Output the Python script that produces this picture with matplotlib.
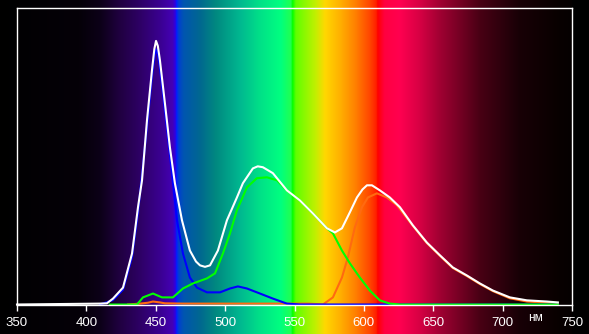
import matplotlib.pyplot as plt
import numpy as np
from matplotlib.colors import to_rgb

plt.rcParams["font.family"] = ["Liberation Sans", "DejaVu Sans"]

# total spectrum (white), nm -> relative intensity
white_nm = [350, 409.8, 414.8, 419.2, 426.4, 432.9, 437.2, 440.1, 443.7, 447.3, 449.0, 450.2,
            451.5, 453.0, 456.6, 460.2, 463.8, 468.9, 474.6, 479.0, 481.9, 485.5, 489.1, 494.8,
            501.3, 508.5, 512.8, 520.0, 523.5, 527.2, 534.4, 544.5, 553.9, 563.3, 573.4, 579.1,
            584.2, 589.9, 595.0, 599.0, 602.2, 605.8, 611.5, 618.7, 626.0, 635.3, 645.4, 654.8,
            664.1, 674.2, 683.6, 693.0, 705.2, 717.5, 731.9, 739.8]
white_val = [0.0, 0.003, 0.004, 0.02, 0.057, 0.172, 0.328, 0.419, 0.622, 0.791, 0.862, 0.889,
             0.872, 0.824, 0.679, 0.530, 0.409, 0.284, 0.182, 0.145, 0.132, 0.127, 0.132, 0.182,
             0.284, 0.361, 0.409, 0.459, 0.466, 0.463, 0.443, 0.385, 0.351, 0.307, 0.257, 0.243,
             0.257, 0.311, 0.361, 0.388, 0.402, 0.402, 0.385, 0.361, 0.328, 0.267, 0.209, 0.166,
             0.125, 0.098, 0.071, 0.047, 0.024, 0.014, 0.010, 0.007]

blue_nm = [409.8, 419.2, 426.4, 432.9, 437.2, 443.7, 447.3, 449.0, 450.2, 451.5, 453.0, 456.6,
           460.2, 465.3, 469.6, 474.6, 479.7, 486.9, 496.3, 503.5, 509.2, 515.7, 525.1, 534.4,
           544.5, 554.0, 739.8]
blue_val = [0.0, 0.015, 0.05, 0.16, 0.31, 0.60, 0.77, 0.835, 0.860, 0.845, 0.80, 0.655,
            0.505, 0.284, 0.172, 0.091, 0.057, 0.041, 0.041, 0.054, 0.061, 0.054, 0.037, 0.020,
            0.003, 0.0, 0.0]

green_nm = [417.0, 436.5, 440.8, 448.0, 454.5, 462.4, 469.6, 476.8, 486.9, 492.7, 498.4, 503.5,
            508.5, 515.7, 522.9, 530.1, 537.3, 544.5, 553.9, 563.3, 573.4, 577.7, 584.2, 589.9,
            597.1, 604.3, 611.5, 618.7, 626.0, 739.8]
green_val = [0.0, 0.0, 0.024, 0.037, 0.024, 0.024, 0.054, 0.071, 0.088, 0.105, 0.172, 0.24,
             0.318, 0.395, 0.426, 0.429, 0.419, 0.385, 0.351, 0.307, 0.257, 0.240, 0.182, 0.139,
             0.091, 0.047, 0.014, 0.003, 0.0, 0.0]

orange_nm = [430.0, 438.6, 444.4, 448.0, 453.0, 456.6, 470.0, 560.0, 570.5, 577.7, 584.2, 588.5,
             593.5, 598.6, 602.9, 609.4, 616.6, 623.8, 635.3, 645.4, 654.8, 664.1, 674.2, 683.6,
             693.0, 705.2, 717.5, 731.9, 739.8]
orange_val = [0.0, 0.003, 0.006, 0.010, 0.007, 0.004, 0.003, 0.003, 0.0, 0.024, 0.091, 0.159,
              0.260, 0.328, 0.361, 0.375, 0.361, 0.335, 0.265, 0.207, 0.164, 0.123, 0.096, 0.069,
              0.045, 0.021, 0.010, 0.006, 0.004]

# background rainbow, colour stops by wavelength
spectrum_nm = [337, 395, 410, 424, 439, 453, 462, 464, 465, 466.5, 470, 482, 493, 511, 525, 540,
               547.5, 548.5, 551, 565, 572, 583, 594, 604, 609, 610, 615, 626, 640, 655, 684, 712,
               741, 750, 750.5, 763]
spectrum_hex = ["#000000", "#050008", "#0c0018", "#200040", "#2e0066", "#3a0090", "#4400b4",
                "#3000e0", "#0020ff", "#0040d0", "#0055b0", "#006890", "#008880", "#00b890",
                "#00e088", "#00ff80", "#20ff50", "#00ff00", "#60ff00", "#c0f000", "#ffd800",
                "#ffb000", "#ff8000", "#ff4800", "#ff2000", "#ff0000", "#ff0040", "#ff0050",
                "#d80044", "#a00032", "#480014", "#180006", "#080000", "#050000", "#000000",
                "#000000"]

tick_values = [350, 400, 450, 500, 550, 600, 650, 700, 750]

fig = plt.figure(figsize=(5.89, 3.34), dpi=100, facecolor="black")

# full-figure background strip; pixel 17 -> 350 nm, pixel 572 -> 750 nm
x_lo, x_hi = 350 - 17 * 0.7207, 350 + 572 * 0.7207
grid = np.linspace(x_lo, x_hi, 1500)
rgb = np.array([to_rgb(c) for c in spectrum_hex])
img = np.stack([np.interp(grid, spectrum_nm, rgb[:, i]) for i in range(3)], axis=-1)[None, :, :]
bg = fig.add_axes([0, 0, 1, 1])
bg.imshow(img, aspect="auto", extent=[x_lo, x_hi, 0, 1], interpolation="bilinear")
bg.set_xlim(x_lo, x_hi)
bg.set_axis_off()

ax = fig.add_axes([17 / 589, (334 - 304.5) / 334, 555 / 589, 296.5 / 334])
ax.patch.set_alpha(0)
ax.set_xlim(350, 750)
ax.set_ylim(0, 1)

ax.plot(orange_nm, orange_val, color="#ff6a10", lw=1.5, clip_on=False)
ax.plot(blue_nm, blue_val, color="#0000ff", lw=1.5, clip_on=False)
ax.plot(green_nm, green_val, color="#00ff00", lw=1.5, clip_on=False)
ax.plot(white_nm, white_val, color="white", lw=1.5, clip_on=False)

for s in ax.spines.values():
    s.set_color("white")
    s.set_linewidth(1.0)
ax.set_yticks([])
ax.set_xticks(tick_values)
ax.tick_params(axis="x", colors="white", labelcolor="white", labelsize=9.5,
               length=4, width=1, pad=5)

ax.annotate("нм", xy=(724, 0), xycoords=("data", "axes fraction"), xytext=(0, -10),
            textcoords="offset points", ha="center", va="center", color="white", fontsize=8.5)

fig.savefig("out.png", dpi=100, facecolor="black")
